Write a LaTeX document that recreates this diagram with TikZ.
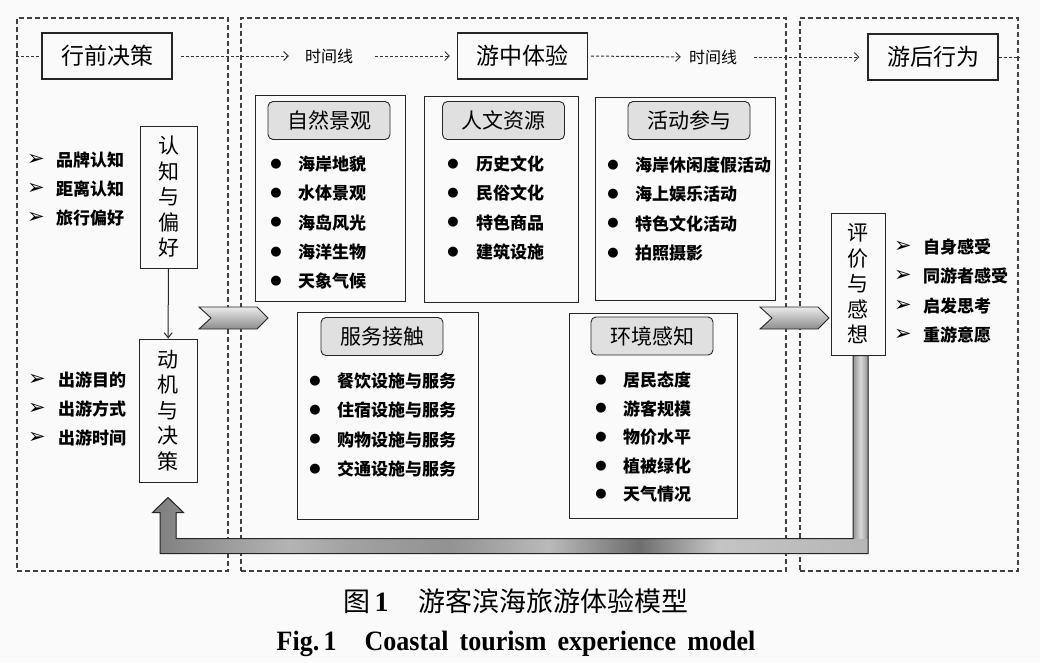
\documentclass[tikz,border=0pt]{standalone}
\usepackage{fontspec}
\setmainfont{Liberation Serif}
\newfontfamily\cjk{Noto Sans CJK SC}
\newfontfamily\symf{DejaVu Sans}
\usetikzlibrary{arrows.meta,calc}
\definecolor{bg}{HTML}{FAFAFA}
\definecolor{fbA}{HTML}{7E7E7E}
\definecolor{fbB}{HTML}{B4B4B4}
\definecolor{fbC}{HTML}{A2A2A2}
\definecolor{fbD}{HTML}{929292}
\definecolor{fbE}{HTML}{BABABA}
\definecolor{fbF}{HTML}{6E6E6E}
\definecolor{fbG}{HTML}{A6A6A6}
\definecolor{fbH}{HTML}{C4C4C4}
\definecolor{fbI}{HTML}{B6B6B6}
\pgfdeclarehorizontalshading{fbshade}{100bp}{color(0bp)=(fbA); color(25bp)=(fbA); color(34.5bp)=(fbB); color(38.7bp)=(fbC); color(45.7bp)=(fbD); color(52.7bp)=(fbE); color(59bp)=(fbF); color(62.5bp)=(fbG); color(64.6bp)=(fbH); color(75bp)=(fbI); color(100bp)=(fbI)}
\newcommand\fbpath{($(fbtop)+(-5,0)$) -- ($(fbtop)+(10,0)$) -- ($(fbtop)+(10,198)$) -- ($(fbtip)+(-8,56)$) -- ($(fbtip)+(-8,15)$) -- ($(fbtip)+(-15.5,15)$) -- (fbtip) -- ($(fbtip)+(15.5,15)$) -- ($(fbtip)+(8,15)$) -- ($(fbtip)+(8,41)$) -- ($(fbtop)+(-5,183)$) -- cycle}
\begin{document}
\begin{tikzpicture}[x=1pt,y=-1pt,
  panel/.style={draw=black!75,line width=1.3pt,dash pattern=on 5pt off 3pt,inner sep=0},
  titlebox/.style={draw=black!85,line width=1.1pt,fill=bg,minimum width=130,minimum height=46,inner sep=0,font=\cjk\fontsize{23}{23}\selectfont},
  tltext/.style={inner sep=0,font=\cjk\fontsize{16}{16}\selectfont},
  tline/.style={draw=black!80,line width=1pt,dash pattern=on 3pt off 2pt},
  tarrow/.style={tline,-{Straight Barb[length=4.5pt,width=9pt,line width=1pt]}},
  grpbox/.style={draw=black!85,line width=1pt,fill=bg,inner sep=0},
  header/.style={draw=black!85,line width=0.9pt,rounded corners=5pt,fill=black!12,minimum width=122,minimum height=38,inner sep=0,font=\cjk\fontsize{21}{21}\selectfont},
  dot/.style={inner sep=0,font=\symf\fontsize{13}{13}\selectfont},
  item/.style={anchor=west,inner sep=0,font=\cjk\bfseries\fontsize{17}{17}\selectfont},
  tri/.style={inner sep=0,font=\symf\fontsize{21}{21}\selectfont},
  vbox/.style={draw=black!85,line width=1pt,fill=bg,inner sep=0,align=center,font=\cjk\fontsize{21}{25.5}\selectfont},
  chev/.style={draw=black!85,line width=0.9pt,top color=black!8,bottom color=black!45},
  fbline/.style={draw=black!85,line width=1pt,line join=miter}
]
\useasboundingbox (0,0) rectangle (1040,662);
\fill[bg] (0,0) rectangle (1040,662);

% dashed panels
\node[panel,minimum width=211,minimum height=553] (panL) at (122.5,294.5) {};
\node[panel,minimum width=545,minimum height=553] (panM) at (513.5,294.5) {};
\node[panel,minimum width=218,minimum height=553] (panR) at (909,294.5) {};

% stage titles and time line
\node[titlebox] (pre) at (107,56) {行前决策};
\node[titlebox] (mid) at (522.5,56) {游中体验};
\node[titlebox] (post) at (933,57) {游后行为};
\node[tltext] (t1) at (329,56) {时间线};
\node[tltext] (t2) at (713,57) {时间线};
\draw[tline] (panL.west |- pre) -- (pre.west);
\draw[tarrow,shorten <=8pt,shorten >=16pt] (pre.east) -- (t1.west);
\draw[tarrow,shorten <=22pt,shorten >=7pt] (t1.east) -- (mid.west);
\draw[tarrow,shorten <=3pt,shorten >=8pt] (mid.east) -- (t2.west);
\draw[tarrow,shorten <=17pt,shorten >=8pt] (t2.east) -- (post.west);
\draw[tline] (post.east) -- (panR.east |- post);

% pre-trip
\node[vbox,minimum width=57,minimum height=142] (cog) at (168.5,197) {认\\知\\与\\偏\\好};
\node[vbox,minimum width=58,minimum height=143] (mot) at (168,410.5) {动\\机\\与\\决\\策};
\draw[draw=black!85,line width=1pt,-{Straight Barb[length=5pt,width=8pt,line width=1pt]}] (cog) -- (mot);
\foreach \t [count=\i] in {品牌认知,距离认知,旅行偏好}{
  \node[tri] (la\i) at (36,{160+29*(\i-1)}) {➢};
  \node[item] (lt\i) at (56,{160+29*(\i-1)}) {\t};
}
\foreach \t [count=\i] in {出游目的,出游方式,出游时间}{
  \node[tri] (lb\i) at (37,{380+29*(\i-1)}) {➢};
  \node[item] (lu\i) at (58,{380+29*(\i-1)}) {\t};
}

% during trip groups
\node[grpbox,minimum width=150,minimum height=206] (nat) at (330,198) {};
\node[header] (natH) at (329,120.5) {自然景观};
\foreach \t [count=\i] in {海岸地貌,水体景观,海岛风光,海洋生物,天象气候}{
  \node[dot] (nd\i) at (276,{164+29.3*(\i-1)}) {●};
  \node[item] (nt\i) at (298,{164+29.3*(\i-1)}) {\t};
}
\node[grpbox,minimum width=154,minimum height=206] (hum) at (501,199) {};
\node[header] (humH) at (503.5,120.5) {人文资源};
\foreach \t [count=\i] in {历史文化,民俗文化,特色商品,建筑设施}{
  \node[dot] (hd\i) at (453,{164+29.3*(\i-1)}) {●};
  \node[item] (ht\i) at (476,{164+29.3*(\i-1)}) {\t};
}
\node[grpbox,minimum width=180,minimum height=203] (act) at (685,198.5) {};
\node[header] (actH) at (689,120.5) {活动参与};
\foreach \t [count=\i] in {海岸休闲度假活动,海上娱乐活动,特色文化活动,拍照摄影}{
  \node[dot] (ad\i) at (613,{165+29.3*(\i-1)}) {●};
  \node[item] (at\i) at (635,{165+29.3*(\i-1)}) {\t};
}
\node[grpbox,minimum width=181,minimum height=207] (srv) at (387.5,415.5) {};
\node[header] (srvH) at (382,336.5) {服务接触};
\foreach \t [count=\i] in {餐饮设施与服务,住宿设施与服务,购物设施与服务,交通设施与服务}{
  \node[dot] (sd\i) at (315,{381+29.3*(\i-1)}) {●};
  \node[item] (st\i) at (337,{381+29.3*(\i-1)}) {\t};
}
\node[grpbox,minimum width=168,minimum height=205] (env) at (653,415.5) {};
\node[header] (envH) at (652,336) {环境感知};
\foreach \t [count=\i] in {居民态度,游客规模,物价水平,植被绿化,天气情况}{
  \node[dot] (ed\i) at (601,{380+28.6*(\i-1)}) {●};
  \node[item] (et\i) at (623,{380+28.6*(\i-1)}) {\t};
}

% post trip
\node[vbox,minimum width=54,minimum height=142] (eva) at (858,284) {评\\价\\与\\感\\想};
\foreach \t [count=\i] in {自身感受,同游者感受,启发思考,重游意愿}{
  \node[tri] (ra\i) at (903,{247+29.3*(\i-1)}) {➢};
  \node[item] (rt\i) at (923,{247+29.3*(\i-1)}) {\t};
}

% chevrons between stages
\path[chev] (199,307) -- (257,307) -- (268,318) -- (257,329) -- (199,329) -- (211,318) -- cycle;
\path[chev] (760,307) -- (818,307) -- (829,318) -- (818,329) -- (760,329) -- (772,318) -- cycle;

% feedback arrow from evaluation back to motivation
\coordinate (fbtop) at (eva.south);
\coordinate (fbtip) at ($(mot.south)+(0,15)$);
\fill[shading=fbshade] \fbpath;
\fill[left color=black!42,right color=black!42,middle color=black!15] ($(fbtop)+(-5,0)$) rectangle ($(fbtop)+(10,183)$);
\draw[fbline] \fbpath;

% caption
\node[inner sep=0] (cap1) at (516,601) {{\cjk\fontsize{27}{27}\selectfont 图}\hspace{4pt}{\fontsize{28}{28}\selectfont\bfseries 1}\hspace{30pt}{\cjk\fontsize{27}{27}\selectfont 游客滨海旅游体验模型}};
\node[inner sep=0] (cap2) at (516,644) {\scalebox{0.93}[1]{\fontsize{28}{28}\selectfont\bfseries Fig.\,1\hspace{30pt}Coastal\hspace{12pt}tourism\hspace{12pt}experience\hspace{12pt}model}};
\end{tikzpicture}
\end{document}
